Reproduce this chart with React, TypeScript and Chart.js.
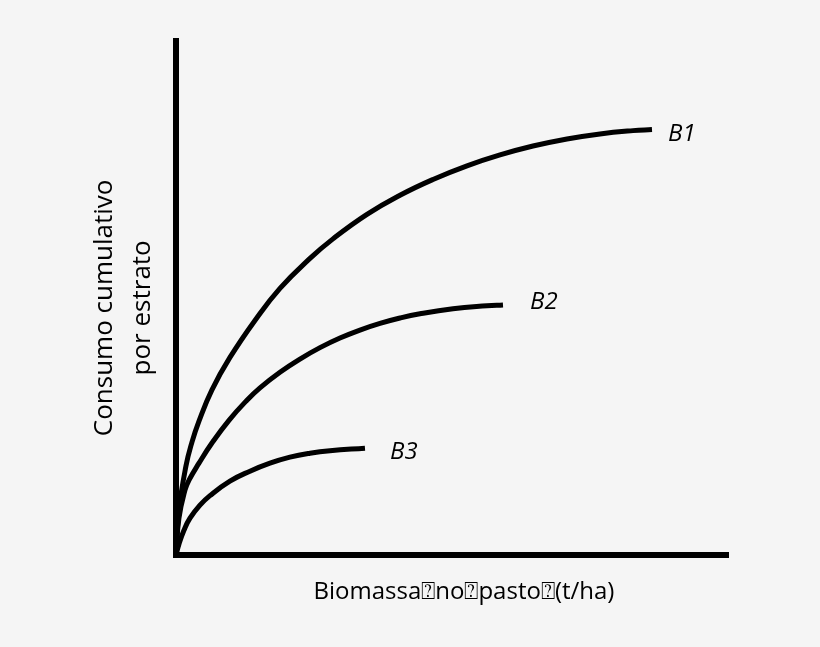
import React, { useEffect, useRef } from "react";
import { Chart, registerables } from "chart.js";

Chart.register(...registerables);

// Curve data (x: biomass, y: cumulative consumption), arbitrary units 0..10
const b1X = [0, 0.054, 0.181, 0.29, 0.417, 0.652, 0.978, 1.431, 1.884, 2.428, 2.844, 3.46, 4.058, 4.656, 5.272, 5.87, 6.467, 7.083, 7.681, 8.279, 8.623];
const b1Y = [0, 0.875, 1.733, 2.2, 2.609, 3.216, 3.846, 4.566, 5.189, 5.772, 6.152, 6.628, 7.0, 7.307, 7.572, 7.784, 7.957, 8.095, 8.193, 8.257, 8.278];
const b2X = [0, 0.054, 0.163, 0.236, 0.417, 0.652, 0.96, 1.286, 1.522, 1.884, 2.246, 2.609, 2.971, 3.333, 3.696, 4.058, 4.42, 5.018, 5.634, 5.924];
const b2Y = [0, 0.72, 1.265, 1.459, 1.79, 2.181, 2.623, 3.014, 3.255, 3.558, 3.815, 4.037, 4.224, 4.379, 4.508, 4.613, 4.695, 4.792, 4.85, 4.868];
const b3X = [0, 0.054, 0.145, 0.254, 0.435, 0.616, 0.978, 1.341, 1.703, 2.065, 2.428, 2.79, 3.424];
const b3Y = [0, 0.214, 0.486, 0.72, 0.973, 1.158, 1.44, 1.634, 1.79, 1.907, 1.984, 2.033, 2.082];
const seriesNames = ["B1", "B2", "B3"];
const xTitle = "\u2003Biomassa\u2370no\u2370pasto\u2370(t/ha)";
const yTitle = ["Consumo cumulativo\u2002\u2005", "por estrato\u2002\u2005"];

const FONT = "'Open Sans', 'Noto Sans', sans-serif";

const zip = (xs: number[], ys: number[]) => xs.map((x, i) => ({ x, y: ys[i] }));

// label placement relative to each curve's end point (style, not data)
const labelOffsets = [
  { dx: 16, dy: 5 },
  { dx: 27, dy: -3 },
  { dx: 25, dy: 4 },
];

const bgPlugin = {
  id: "bg",
  beforeDraw(chart: any) {
    const { ctx, width, height } = chart;
    ctx.save();
    ctx.fillStyle = "#f5f5f5";
    ctx.fillRect(0, 0, width, height);
    ctx.restore();
  },
};

const endLabelPlugin = {
  id: "endLabels",
  afterDatasetsDraw(chart: any) {
    const { ctx } = chart;
    ctx.save();
    ctx.font = `italic 24px ${FONT}`;
    ctx.fillStyle = "#000";
    ctx.textBaseline = "middle";
    ctx.textAlign = "left";
    chart.data.datasets.forEach((ds: any, i: number) => {
      const meta = chart.getDatasetMeta(i);
      const pt = meta.data[meta.data.length - 1];
      if (!pt) return;
      const o = labelOffsets[i];
      ctx.fillText(ds.label, pt.x + o.dx, pt.y + o.dy);
    });
    ctx.restore();
  },
};

export default function App() {
  const ref = useRef<HTMLCanvasElement | null>(null);

  useEffect(() => {
    document.body.style.margin = "0";
    const canvas = ref.current!;
    const lineDs = (label: string, data: any[]) => ({
      label,
      data,
      showLine: true,
      borderColor: "#000",
      borderWidth: 5,
      pointRadius: 0,
      fill: false,
      tension: 0.45,
      cubicInterpolationMode: "default" as const,
      clip: false as any,
    });
    const chart = new Chart(canvas, {
      type: "scatter",
      data: {
        datasets: [
          lineDs(seriesNames[0], zip(b1X, b1Y)),
          lineDs(seriesNames[1], zip(b2X, b2Y)),
          lineDs(seriesNames[2], zip(b3X, b3Y)),
        ],
      },
      options: {
        responsive: false,
        animation: false,
        events: [],
        layout: { padding: { left: 85, top: 41, right: 92, bottom: 40 } },
        plugins: { legend: { display: false }, tooltip: { enabled: false } },
        scales: {
          x: {
            type: "linear",
            min: 0,
            max: 10,
            grid: { display: false, drawTicks: false },
            ticks: { display: false },
            border: { display: true, color: "#000", width: 6 },
            title: {
              display: true,
              text: xTitle,
              color: "#000",
              font: { family: FONT, size: 24, lineHeight: 1.2 },
              padding: { top: 23, bottom: 0 },
            },
          },
          y: {
            type: "linear",
            min: 0,
            max: 10,
            grid: { display: false, drawTicks: false },
            ticks: { display: false },
            border: { display: true, color: "#000", width: 6 },
            title: {
              display: true,
              text: yTitle,
              color: "#000",
              font: { family: FONT, size: 26, lineHeight: 1.48 },
              padding: { top: 0, bottom: 14 },
            },
          },
        },
      },
      plugins: [bgPlugin, endLabelPlugin],
    });
    return () => chart.destroy();
  }, []);

  return (
    <div style={{ position: "absolute", left: 0, top: 0, width: 820, height: 647 }}>
      <canvas ref={ref} width={820} height={647} />
    </div>
  );
}
